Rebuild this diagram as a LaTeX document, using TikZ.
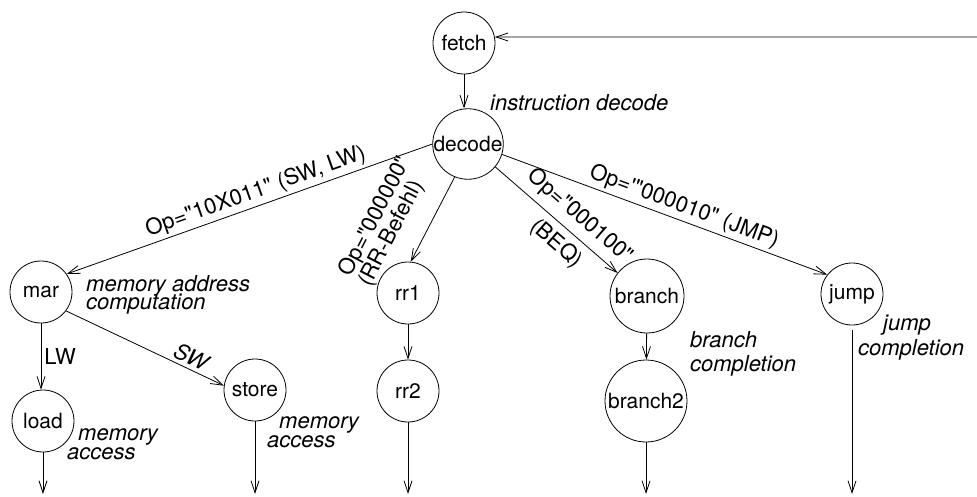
\documentclass[tikz,border=0pt]{standalone}
\usepackage{fontspec}
\setmainfont{TeX Gyre Heros}[Ligatures=TeXOff]
\usetikzlibrary{arrows.meta}
\begin{document}
\begin{tikzpicture}[x=1pt,y=-1pt,
  st/.style={draw, circle, line width=0.8pt, inner sep=0pt, font=\fontsize{21}{24}\selectfont},
  arr/.style={draw, line width=0.8pt, -{Straight Barb[length=12pt,width=8pt,line width=0.8pt]}},
  elab/.style={font=\fontsize{22}{24}\selectfont, inner sep=3pt},
  note/.style={font=\fontsize{22}{24}\selectfont\itshape, anchor=base west, inner sep=0pt}]
\useasboundingbox (0,0) rectangle (977,496);
% states
\node[st, minimum size=62pt] (fetch) at (464,43) {fetch};
\node[st, minimum size=70pt] (decode) at (468,144) {decode};
\node[st, minimum size=62pt] (mar) at (41,292) {mar};
\node[st, minimum size=62pt] (load) at (43,421) {load};
\node[st, minimum size=62pt] (store) at (255,390) {store};
\node[st, minimum size=62pt] (rr1) at (408,293) {rr1};
\node[st, minimum size=62pt] (rr2) at (408,391) {rr2};
\node[st, minimum size=74pt] (branch) at (647,296) {branch};
\node[st, minimum size=82pt] (branch2) at (646,401) {branch2};
\node[st, minimum size=62pt] (jump) at (852,294) {jump};
% notes
\node[note] (idec) at (490,110) {instruction decode};
\node[note] (mac1) at (86,291) {memory address};
\node[note] (mac2) at (86,309) {computation};
\node[note] (lma1) at (78,440) {memory};
\node[note] (lma2) at (67,459) {access};
\node[note] (sma1) at (279,428) {memory};
\node[note] (sma2) at (267,447) {access};
\node[note] (bc1) at (690,347) {branch};
\node[note] (bc2) at (690,371) {completion};
\node[note] (jc1) at (883,330) {jump};
\node[note] (jc2) at (858,355) {completion};
% free ends
\coordinate (entry) at (977,37);
\coordinate (loadend) at (43,494);
\coordinate (storeend) at (255,494);
\coordinate (rrend) at (408,494);
\coordinate (branchend) at (646,494);
\coordinate (jumpend) at (852,494);
% connectors
\draw[arr] (entry) -- (fetch.11);
\draw[arr] (fetch.south) -- (fetch.south |- decode.north);
\draw[arr] (decode.west) -- node[elab, sloped, above, pos=0.47] {Op="10X011" (SW, LW)} (mar.35);
\draw[arr] (decode.248) -- node[elab, sloped, above=16pt, pos=0.75, align=left, font=\fontsize{22}{19}\selectfont] {Op="000000"\\(RR-Befehl)} (rr1.85);
\draw[arr] (decode.-40) -- node[elab, sloped, pos=0.595, align=center, font=\fontsize{22}{36}\selectfont] {Op="000100"\\(BEQ)} (branch.142);
\draw[arr] (decode.-17) -- node[elab, sloped, above, pos=0.545] {Op='"000010" (JMP)} (jump.142);
\draw[arr] (mar.south) -- node[elab, right, pos=0.5] {LW} (mar.south |- load.north);
\draw[arr] (mar.-37) -- node[elab, sloped, above, pos=0.76, font=\fontsize{22}{24}\selectfont\itshape] {SW} (store.172);
\draw[arr] (rr1) -- (rr2);
\draw[arr] (branch) -- (branch2);
\draw[arr] (load) -- (loadend);
\draw[arr] (store) -- (storeend);
\draw[arr] (rr2) -- (rrend);
\draw[arr] (branch2) -- (branchend);
\draw[arr, shorten <=5pt] (jump) -- (jumpend);
\end{tikzpicture}
\end{document}
